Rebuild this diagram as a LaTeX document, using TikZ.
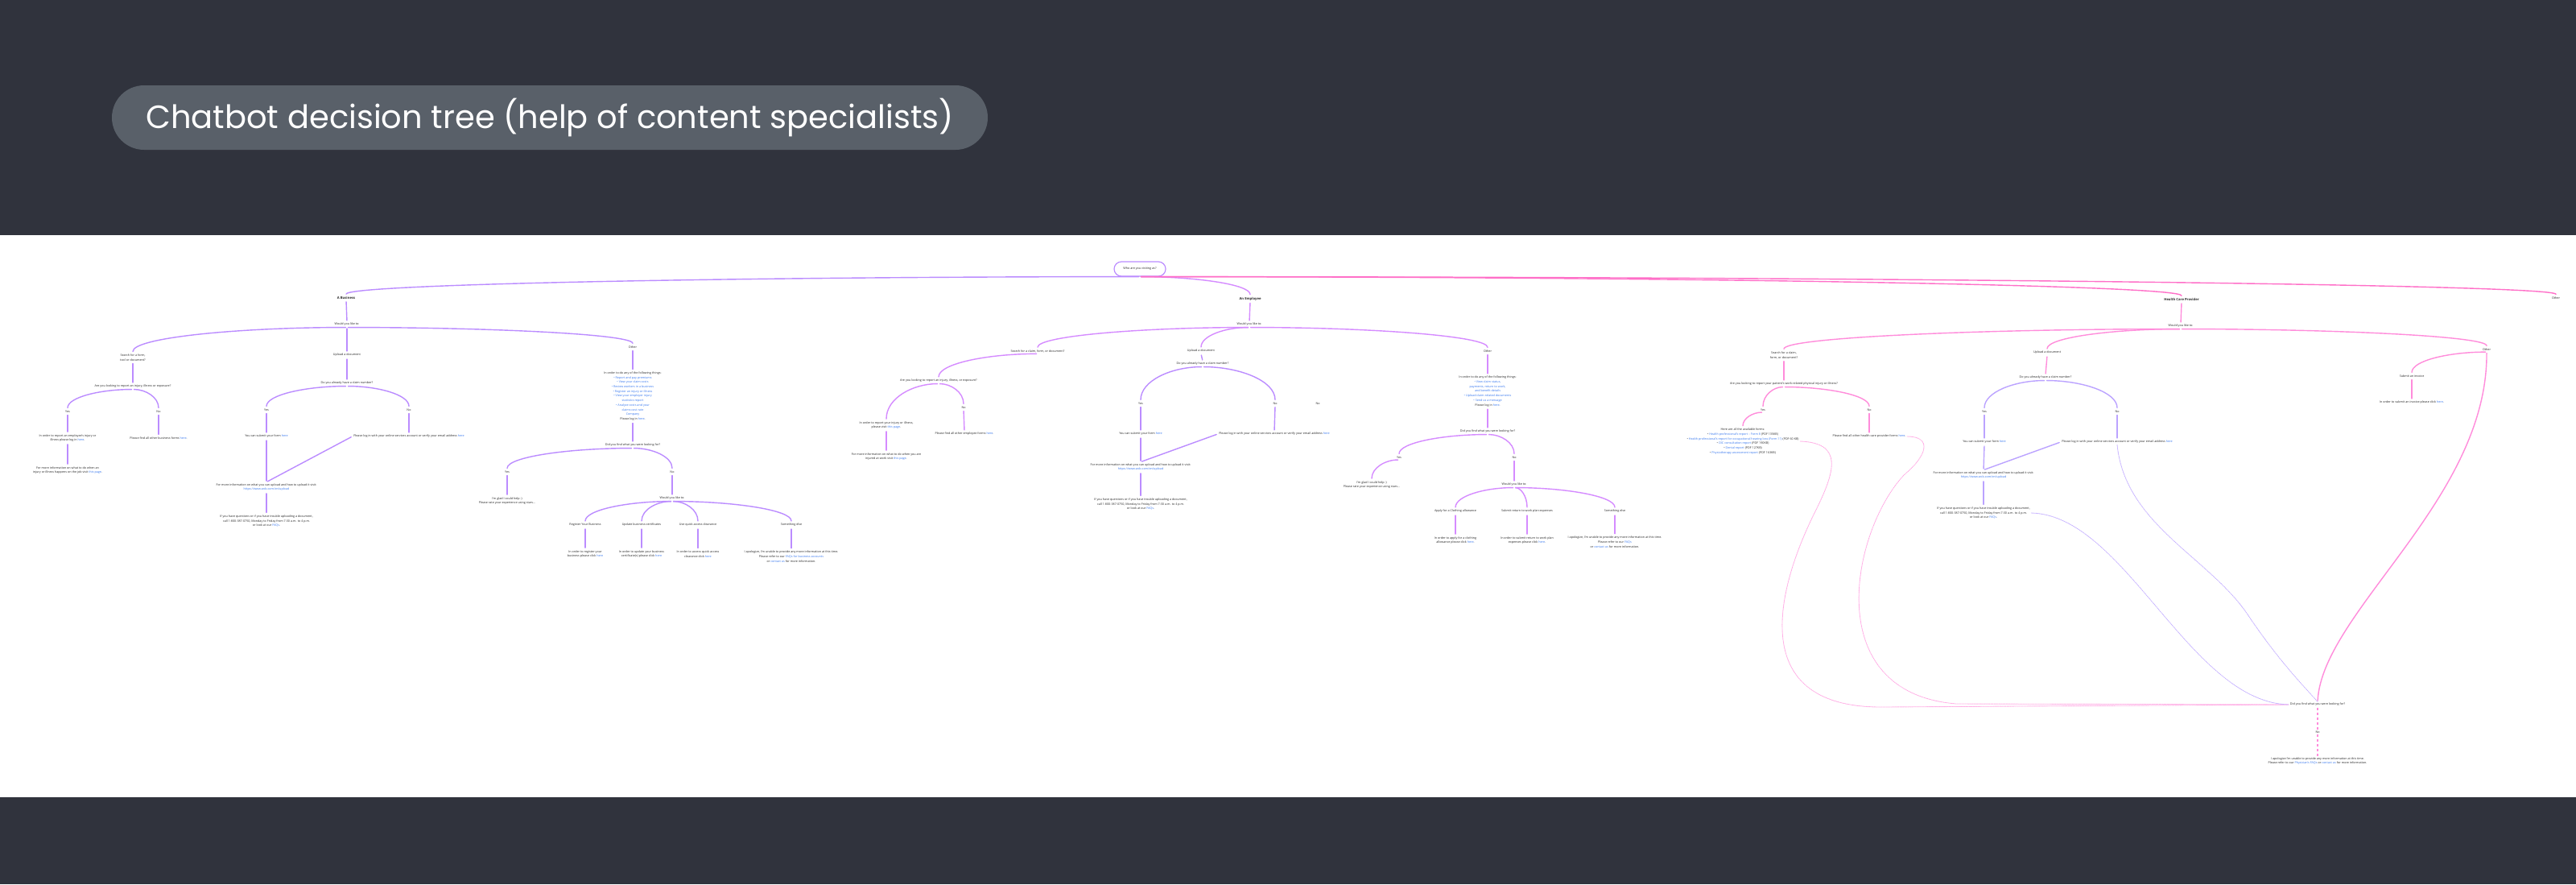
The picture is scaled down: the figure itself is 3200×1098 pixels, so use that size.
\documentclass[tikz,border=0pt]{standalone}
\usepackage{fontspec}
\setmainfont{Open Sans}
\newfontfamily\titlefont{Poppins}
\usetikzlibrary{calc}
\definecolor{bgdark}{HTML}{30333D}
\definecolor{pill}{HTML}{596069}
\definecolor{txt}{HTML}{2A2A2A}
\definecolor{lnk}{HTML}{3C7BF0}
\definecolor{cA}{HTML}{BB8CFF}
\definecolor{cB}{HTML}{D58BFF}
\definecolor{cC}{HTML}{FF8CDB}
\definecolor{cD}{HTML}{BBA3FF}
\definecolor{cP}{HTML}{FF6FC8}
\newcommand\lk[1]{\textcolor{lnk}{#1}}
\newcommand\br[3][lnA]{\draw[#1] (#2) .. controls ($(#2)!0.5!(#2 -| #3)$) and ($(#3)!0.6!(#3 |- #2)$) .. (#3);}
\tikzset{
 tx/.style={font=\fontsize{3.7}{5.7}\selectfont, text=txt, align=center, inner sep=1.5pt},
 hdr/.style={tx, font=\fontsize{4.2}{5.5}\selectfont\bfseries},
 lnA/.style={draw=cA, line width=1.4pt, line cap=round, shorten <=1.5pt, shorten >=1.5pt},
 lnB/.style={lnA, draw=cB},
 lnC/.style={lnA, draw=cC},
 lnD/.style={lnA, draw=cD},
 lnP/.style={lnA, draw=cP},
 dotP/.style={draw=cC!75, line width=0.9pt, densely dotted, line cap=round},
 dotL/.style={draw=cD!85, line width=0.9pt, densely dotted, line cap=round},
 dashP/.style={draw=cC, line width=1.2pt, dashed},
}
\begin{document}
\begin{tikzpicture}[x=1pt,y=-1pt]
\useasboundingbox (0,0) rectangle (3200,1098);
\fill[bgdark] (0,0) rectangle (3200,1098);
\fill[white] (0,292) rectangle (3200,990);
\node[fill=pill, rounded corners=40pt, minimum width=1088pt, minimum height=80pt, inner sep=0pt, text=white, font=\titlefont\fontsize{40}{42}\selectfont] (title) at (683,146) {Chatbot decision tree (help of content specialists)};

% root
\node[tx, draw=cA, line width=1.2pt, rounded corners=9pt, minimum width=64pt, minimum height=18pt, fill=white] (root) at (1416,334) {Who are you visiting as?};
\node[hdr] (lb) at (430,370) {A Business};
\node[hdr] (ee) at (1553,371) {An Employee};
\node[hdr] (hh) at (2710,372) {Health Care Provider};
\node[tx] (ot) at (3175,370) {Other};
\br[lnA]{root.south}{lb.north}
\br[lnB]{root.south}{ee.north}
\br[lnP]{root.south}{hh.north}
\br[lnP]{root.south}{ot.north}

% ===== Left tree: A Business =====
\node[tx] (lw) at (431,403) {Would you like to:};
\node[tx] (ls) at (165,444) {Search for a form,\\tool or document?};
\node[tx] (lu) at (431,441) {Upload a document};
\node[tx] (lo) at (786,431) {Other};
\node[tx] (lq) at (165,480) {Are you looking to report an injury, illness or exposure?};
\node[tx] (ly) at (84,511) {Yes};
\node[tx] (ln) at (197,511) {No};
\node[tx] (lyr) at (84,544) {In order to report an employee's injury or\\illness please log in \lk{here}.};
\node[tx] (lym) at (84,584) {For more information on what to do when an\\injury or illness happens on the job visit \lk{this page}.};
\node[tx] (lnr) at (197,544) {Please find all other business forms \lk{here}.};
\node[tx] (lc) at (431,476) {Do you already have a claim number?};
\node[tx] (lcy) at (331,509) {Yes};
\node[tx] (lcn) at (508,509) {No};
\node[tx] (lsub) at (331,542) {You can submit your form \lk{here}};
\node[tx] (llog) at (508,542) {Please log in with your online services account or verify your email address \lk{here}};
\node[tx] (lmore) at (331,605) {For more information on what you can upload and how to upload it visit:\\\lk{https://www.wcb.com/en/upload}};
\node[tx] (lfaq) at (331,647) {If you have questions or if you have trouble uploading a document,\\call 1-800-387-0750, Monday to Friday from 7:30 a.m. to 4 p.m.\\or look at our \lk{FAQs}.};
\node[tx] (lol) at (786,492) {In order to do any of the following things:\\\lk{• Report and pay premiums}\\\lk{• View your claim costs}\\\lk{• Review workers in a business}\\\lk{• Register an injury or illness}\\\lk{• View your employer injury}\\\lk{statistics report}\\\lk{• Analyze costs and your}\\\lk{claims cost rate}\\\lk{Company}\\Please log in \lk{here}.};
\node[tx] (ld) at (786,553) {Did you find what you were looking for?};
\node[tx] (ldy) at (630,586) {Yes};
\node[tx] (ldn) at (835,586) {No};
\node[tx] (lgl) at (630,622) {I'm glad I could help :)\\Please rate your experience using stars...};
\node[tx] (lwl) at (835,619) {Would you like to:};
\node[tx] (la1) at (727,652) {Register Your Business};
\node[tx] (la2) at (797,652) {Update business certificates};
\node[tx] (la3) at (867,652) {Use quick access clearance};
\node[tx] (la4) at (983,652) {Something else};
\node[tx] (lr1) at (727,688) {In order to register your\\business please click \lk{here}};
\node[tx] (lr2) at (797,688) {In order to update your business\\certificate(s) please click \lk{here}};
\node[tx] (lr3) at (867,688) {In order to access quick access\\clearance click \lk{here}};
\node[tx] (lr4) at (983,691) {I apologize, I'm unable to provide any more information at this time.\\Please refer to our \lk{FAQs for business accounts}\\or \lk{contact us} for more information.};

\draw[lnA] (lb.south) -- (lw.north);
\br{lw.south}{ls.north}
\draw[lnA] (lw.south) -- (lu.north);
\br{lw.south}{lo.north}
\draw[lnA] (ls.south) -- (lq.north);
\br{lq.south}{ly.north}
\br{lq.south}{ln.north}
\draw[lnA] (ly.south) -- (lyr.north);
\draw[lnA] (lyr.south) -- (lym.north);
\draw[lnA] (ln.south) -- (lnr.north);
\draw[lnA] (lu.south) -- (lc.north);
\br{lc.south}{lcy.north}
\br{lc.south}{lcn.north}
\draw[lnA] (lcy.south) -- (lsub.north);
\draw[lnA] (lcn.south) -- (llog.north);
\draw[lnA] (lsub.south) -- (lmore.north);
\draw[lnA] (llog.west) -- (lmore.north);
\draw[lnA] (lmore.south) -- (lfaq.north);
\draw[lnA] (lo.south) -- (lol.north);
\draw[lnA] (lol.south) -- (ld.north);
\br{ld.south}{ldy.north}
\br{ld.south}{ldn.north}
\draw[lnA] (ldy.south) -- (lgl.north);
\draw[lnA] (ldn.south) -- (lwl.north);
\br{lwl.south}{la1.north}
\br{lwl.south}{la2.north}
\br{lwl.south}{la3.north}
\br{lwl.south}{la4.north}
\draw[lnA] (la1.south) -- (lr1.north);
\draw[lnA] (la2.south) -- (lr2.north);
\draw[lnA] (la3.south) -- (lr3.north);
\draw[lnA] (la4.south) -- (lr4.north);

% ===== Middle tree: An Employee =====
\node[tx] (ew) at (1552,403) {Would you like to:};
\node[tx] (es) at (1289,436) {Search for a claim, form, or document?};
\node[tx] (eu) at (1492,436) {Upload a document};
\node[tx] (eo) at (1848,436) {Other};
\node[tx] (eq) at (1166,473) {Are you looking to report an injury, illness, or exposure?};
\node[tx] (eyr) at (1101,528) {In order to report your injury or illness,\\please visit \lk{this page}.};
\node[tx] (eym) at (1101,567) {For more information on what to do when you are\\injured at work visit \lk{this page}.};
\node[tx] (en) at (1197,506) {No};
\node[tx] (enr) at (1198,539) {Please find all other employee forms \lk{here}.};
\node[tx] (ec) at (1494,452) {Do you already have a claim number?};
\node[tx] (ecy) at (1417,501) {Yes};
\node[tx] (ecn) at (1584,501) {No};
\node[tx] (estray) at (1637,501) {No};
\node[tx] (esub) at (1417,539) {You can submit your form \lk{here}};
\node[tx] (elog) at (1583,539) {Please log in with your online services account or verify your email address \lk{here}};
\node[tx] (emore) at (1417,580) {For more information on what you can upload and how to upload it visit:\\\lk{https://www.wcb.com/en/upload}};
\node[tx] (efaq) at (1417,626) {If you have questions or if you have trouble uploading a document,\\call 1-800-387-0750, Monday to Friday from 7:30 a.m. to 4 p.m.\\or look at our \lk{FAQs}.};
\node[tx] (eol) at (1848,486) {In order to do any of the following things:\\\lk{• View claim status,}\\\lk{payments, return to work,}\\\lk{and benefit details}\\\lk{• Upload claim-related documents}\\\lk{• Send us a message}\\Please log in \lk{here}.};
\node[tx] (ed) at (1848,536) {Did you find what you were looking for?};
\node[tx] (edy) at (1738,568) {Yes};
\node[tx] (edn) at (1881,568) {No};
\node[tx] (egl) at (1704,602) {I'm glad I could help :)\\Please rate your experience using stars...};
\node[tx] (ewl) at (1881,602) {Would you like to:};
\node[tx] (ea1) at (1808,635) {Apply for a Clothing allowance};
\node[tx] (ea2) at (1897,635) {Submit return to work plan expenses};
\node[tx] (ea3) at (2006,635) {Something else};
\node[tx] (er1) at (1808,671) {In order to apply for a clothing\\allowance please click \lk{here}.};
\node[tx] (er2) at (1897,671) {In order to submit return to work plan\\expenses please click \lk{here}.};
\node[tx] (er3) at (2006,673) {I apologize, I'm unable to provide any more information at this time.\\Please refer to our \lk{FAQs}\\or \lk{contact us} for more information.};

\draw[lnB] (ee.south) -- (ew.north);
\br[lnB]{ew.south}{es.north}
\br[lnB]{ew.south}{eu.north}
\br[lnB]{ew.south}{eo.north}
\br[lnB]{es.south}{eq.north}
\br[lnB]{eq.south}{eyr.north}
\br[lnB]{eq.south}{en.north}
\draw[lnB] (eyr.south) -- (eym.north);
\draw[lnB] (en.south) -- (enr.north);
\draw[lnA] (eu.south) -- (ec.north);
\br[lnA]{ec.south}{ecy.north}
\br[lnA]{ec.south}{ecn.north}
\draw[lnA] (ecy.south) -- (esub.north);
\draw[lnA] (ecn.south) -- (elog.north);
\draw[lnA] (esub.south) -- (emore.north);
\draw[lnA] (elog.west) -- (emore.north);
\draw[lnA] (emore.south) -- (efaq.north);
\draw[lnB] (eo.south) -- (eol.north);
\draw[lnB] (eol.south) -- (ed.north);
\br[lnB]{ed.south}{edy.north}
\br[lnB]{ed.south}{edn.north}
\br[lnB]{edy.south}{egl.north}
\draw[lnB] (edn.south) -- (ewl.north);
\br[lnB]{ewl.south}{ea1.north}
\br[lnB]{ewl.south}{ea2.north}
\br[lnB]{ewl.south}{ea3.north}
\draw[lnB] (ea1.south) -- (er1.north);
\draw[lnB] (ea2.south) -- (er2.north);
\draw[lnB] (ea3.south) -- (er3.north);

% ===== Right tree: Health Care Provider =====
\node[tx] (hw) at (2709,405) {Would you like to:};
\node[tx] (hs) at (2216,441) {Search for a claim,\\form, or document?};
\node[tx] (hu) at (2543,438) {Upload a document};
\node[tx] (ho) at (3089,434) {Other};
\node[tx] (hq) at (2216,477) {Are you looking to report your patient's work-related physical injury or illness?};
\node[tx] (hy) at (2190,509) {Yes};
\node[tx] (hn) at (2322,509) {No};
\node[tx] (hlist) at (2165,548) {Here are all the available forms:\\• \lk{Health professional's report – Form 8} (PDF 135KB)\\• \lk{Health professional's report for occupational hearing loss (Form 11)} (PDF 60 KB)\\• \lk{OIC consultation report} (PDF 190KB)\\• \lk{Dental report} (PDF 127KB)\\• \lk{Physiotherapy assessment report} (PDF 163KB)};
\node[tx] (hnr) at (2322,542) {Please find all other health care provider forms \lk{here}.};
\node[tx] (hc) at (2541,469) {Do you already have a claim number?};
\node[tx] (hcy) at (2465,511) {Yes};
\node[tx] (hcn) at (2630,511) {No};
\node[tx] (hsub) at (2465,549) {You can submit your form \lk{here}};
\node[tx] (hlog) at (2630,549) {Please log in with your online services account or verify your email address \lk{here}};
\node[tx] (hmore) at (2464,590) {For more information on what you can upload and how to upload it visit:\\\lk{https://www.wcb.com/en/upload}};
\node[tx] (hfaq) at (2464,637) {If you have questions or if you have trouble uploading a document,\\call 1-800-387-0750, Monday to Friday from 7:30 a.m. to 4 p.m.\\or look at our \lk{FAQs}.};
\node[tx] (hi) at (2996,467) {Submit an invoice};
\node[tx] (hir) at (2996,500) {In order to submit an invoice please click \lk{here}.};
\node[tx] (hd) at (2879,875) {Did you find what you were looking for?};
\node[tx] (hdn) at (2879,909) {No};
\node[tx] (hap) at (2879,945) {I apologize I'm unable to provide any more information at this time.\\Please refer to our \lk{Physician's FAQs} or \lk{contact us} for more information.};

\draw[lnC] (hh.south) -- (hw.north);
\br[lnC]{hw.south}{hs.north}
\br[lnC]{hw.south}{hu.north}
\br[lnC]{hw.south}{ho.north}
\draw[lnC] (hs.south) -- (hq.north);
\br[lnC]{hq.south}{hy.north}
\br[lnC]{hq.south}{hn.north}
\br[lnC]{hy.south}{hlist.north}
\draw[lnC] (hn.south) -- (hnr.north);
\draw[lnC] (hu.south) -- (hc.north);
\br[lnD]{hc.south}{hcy.north}
\br[lnD]{hc.south}{hcn.north}
\draw[lnD] (hcy.south) -- (hsub.north);
\draw[lnD] (hcn.south) -- (hlog.north);
\draw[lnD] (hsub.south) -- (hmore.north);
\draw[lnD] (hlog.west) -- (hmore.north);
\draw[lnD] (hmore.south) -- (hfaq.north);
\br[lnC]{ho.south}{hi.north}
\draw[lnC] (hi.south) -- (hir.north);
\draw[lnC] (ho.south) .. controls (3090,620) and (2885,760) .. (hd.north);
\draw[dotP] (hlist.east) .. controls (2290,550) and (2280,585) .. (2255,635) .. controls (2205,735) and (2170,880) .. (2340,878) -- (hd.west);
\draw[dotP] (hnr.east) .. controls (2400,542) and (2395,565) .. (2365,590) .. controls (2300,660) and (2260,860) .. (2430,874) -- (hd.west);
\draw[dotL] (hfaq.east) .. controls (2640,640) and (2720,872) .. (hd.west);
\draw[dotL] (hlog.south) .. controls (2640,650) and (2740,690) .. (2790,760) .. controls (2830,820) and (2860,850) .. (hd.north);
\draw[dashP] (hd.south) -- (hdn.north);
\draw[dashP] (hdn.south) -- (hap.north);
\end{tikzpicture}
\end{document}
